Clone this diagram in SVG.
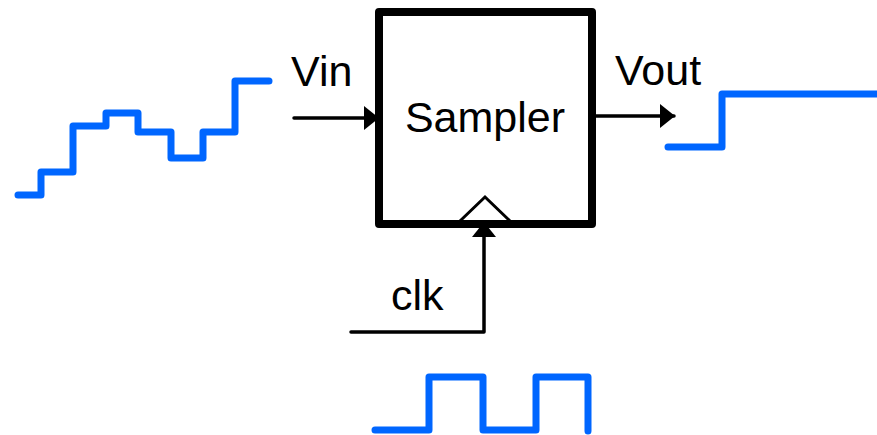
<svg xmlns="http://www.w3.org/2000/svg" width="877" height="435" viewBox="0 0 877 435">
<style>
.wave{fill:none;stroke:#0066FF;stroke-width:7;stroke-linecap:round;stroke-linejoin:round}
.wire{fill:none;stroke:#000;stroke-width:3.5;stroke-linecap:round}
.lbl{font-family:"Liberation Sans",Arial,sans-serif;font-size:43px;fill:#000}
</style>
<defs>
<marker id="ah" markerWidth="15" markerHeight="24" refX="14" refY="12" orient="auto" markerUnits="userSpaceOnUse">
<path d="M0,0 L15,12 L0,24 Z" fill="#000"/>
</marker>
</defs>
<rect width="877" height="435" fill="#fff"/>
<g id="connectors">
<line class="wire" x1="294" y1="118" x2="378" y2="118" marker-end="url(#ah)"/>
<line class="wire" x1="596" y1="116" x2="674" y2="116" marker-end="url(#ah)"/>
<polyline class="wire" points="351,332 484,332 484,223" marker-end="url(#ah)" stroke-linejoin="round"/>
</g>
<g id="sampler">
<rect x="379" y="12" width="213" height="212" fill="none" stroke="#000" stroke-width="8" stroke-linejoin="round"/>
<polyline points="460,221 485,197 510,221" fill="none" stroke="#000" stroke-width="3"/>
<text class="lbl" x="485" y="132" text-anchor="middle">Sampler</text>
</g>
<g id="vin">
<text class="lbl" x="291" y="86">Vin</text>
<polyline class="wave" points="18,195 41,195 41,172 73,172 73,126 106,126 106,113 138,113 138,132 171,132 171,158 203,158 203,132 235,132 235,81 269,81"/>
</g>
<g id="vout">
<text class="lbl" x="615" y="85">Vout</text>
<polyline class="wave" points="668,147 722,147 722,94 877,94"/>
</g>
<g id="clk">
<text class="lbl" x="391" y="310">clk</text>
<polyline class="wave" points="375,430 429,430 429,377 483,377 483,430 536,430 536,377 588,377 588,431"/>
</g>
</svg>
